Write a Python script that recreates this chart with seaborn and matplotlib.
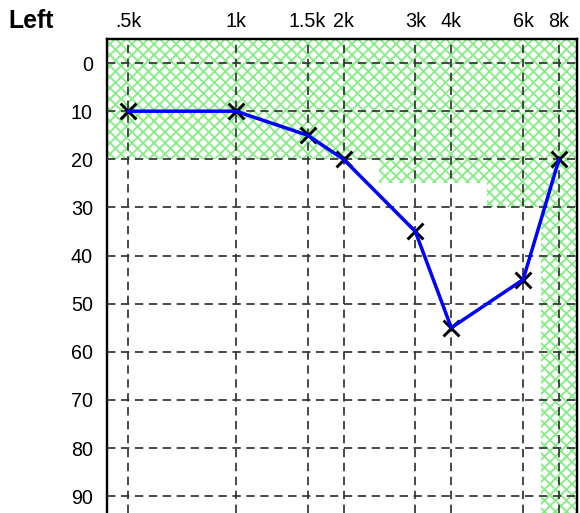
import numpy as np
import pandas as pd
import matplotlib
matplotlib.use("Agg")
import matplotlib.pyplot as plt
import seaborn as sns

# ---- data ----
freq_labels = [".5k", "1k", "1.5k", "2k", "3k", "4k", "6k", "8k"]
freqs = [500, 1000, 1500, 2000, 3000, 4000, 6000, 8000]
thresholds = [10, 10, 15, 20, 35, 55, 45, 20]
normal_limit = [20, 20, 20, 20, 25, 25, 30, 100]
db_ticks = [0, 10, 20, 30, 40, 50, 60, 70, 80, 90]

# ---- audiogram frequency scale (half-octave ticks at 2/3 of an octave) ----
_anchor_f = np.array([250, 500, 1000, 1500, 2000, 3000, 4000, 6000, 8000, 16000], float)
_anchor_p = np.array([-1, 0, 1, 5/3, 2, 8/3, 3, 11/3, 4, 5], float)
_anchor_l = np.log2(_anchor_f)

def fwd(f):
    f = np.asarray(f, float)
    with np.errstate(divide="ignore", invalid="ignore"):
        lf = np.log2(np.where(f > 0, f, np.nan))
    return np.interp(lf, _anchor_l, _anchor_p)

def inv(p):
    p = np.asarray(p, float)
    return 2 ** np.interp(p, _anchor_p, _anchor_l)

DPI = 132
sns.set_style("white")
plt.rcParams["font.family"] = ["Liberation Sans", "DejaVu Sans"]
plt.rcParams["hatch.linewidth"] = 1.0
plt.rcParams["text.color"] = "black"

fig = plt.figure(figsize=(580 / DPI, 513 / DPI), dpi=DPI)
ax = fig.add_axes([106.7 / 580, 0.0, (576.7 - 106.7) / 580, 1 - 39 / 513])
ax.set_xscale("function", functions=(fwd, inv))
ax.set_xlim(inv(-0.198), inv(4.164))
ax.set_ylim(93.5, -5)

# hatched normal-hearing region (band edges midway between test frequencies)
pos = fwd(freqs)
mids = (pos[:-1] + pos[1:]) / 2
edges_p = np.concatenate([[-0.198], mids, [4.164]])
edges_f = inv(edges_p)
lim_ext = normal_limit + [normal_limit[-1]]
ax.fill_between(edges_f, -5, lim_ext, step="post", facecolor="none",
                edgecolor="#86EC86", hatch="xxxx", linewidth=0, zorder=1)

# grid
ax.set_xticks(freqs)
ax.set_xticklabels(freq_labels)
ax.set_yticks(db_ticks)
ax.xaxis.set_minor_locator(matplotlib.ticker.NullLocator())
ax.grid(True, color="#333333", linewidth=0.95, linestyle=(0, (4.8, 3.2)), zorder=2)
ax.set_axisbelow(False)

df = pd.DataFrame({"freq": freqs, "db": thresholds})
sns.scatterplot(data=df, x="freq", y="db", marker="x", color="black", s=75,
                linewidth=1.6, ax=ax, zorder=3)
sns.lineplot(data=df, x="freq", y="db", color="#0000ff", linewidth=1.9,
             ax=ax, zorder=4, estimator=None, sort=False)

ax.set_xlabel("")
ax.set_ylabel("")
ax.xaxis.tick_top()
ax.tick_params(axis="both", length=0, labelsize=10.8, colors="black")
ax.tick_params(axis="x", pad=4.5)
ax.tick_params(axis="y", pad=7.5)

for s in ["left", "top", "right"]:
    ax.spines[s].set_visible(True)
    ax.spines[s].set_color("black")
    ax.spines[s].set_linewidth(1.3)
ax.spines["bottom"].set_visible(False)

fig.text(8 / 580, 1 - 21 / 513, "Left", fontsize=13.5, fontweight="bold",
         color="black", ha="left", va="center")

fig.savefig("out.png", dpi=DPI)
